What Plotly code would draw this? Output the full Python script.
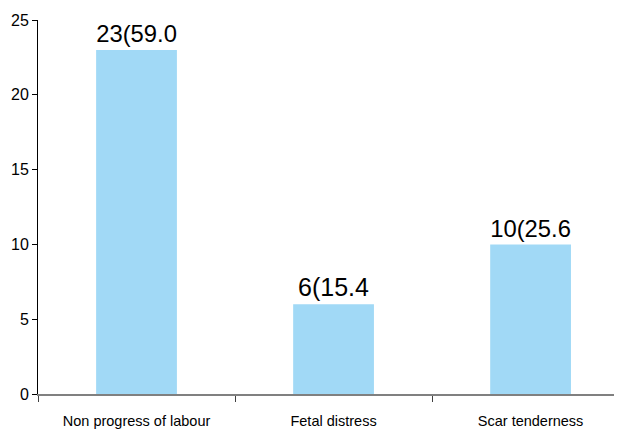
import plotly.graph_objects as go

categories = ["Non progress of labour", "Fetal distress", "Scar tenderness"]
counts = [23, 6, 10]
labels = ["23(59.0", "6(15.4", "10(25.6"]

fig = go.Figure()
fig.add_trace(go.Bar(
    x=categories, y=counts, text=labels, textposition="outside",
    textfont=dict(size=25, color="black", family="Liberation Sans, Arial"),
    marker=dict(color="#a1d9f6", line=dict(width=0)),
    width=0.41, cliponaxis=False,
))
fig.update_layout(
    width=614, height=422,
    margin=dict(l=30, r=0, t=12, b=36, autoexpand=False),
    plot_bgcolor="white", paper_bgcolor="white",
    showlegend=False,
    font=dict(family="Liberation Sans Narrow, Arial Narrow, Liberation Sans, Arial", size=14, color="black"),
    xaxis=dict(
        type="category", range=[-0.5, 2.464], automargin=False,
        showline=True, linecolor="#808080", linewidth=2,
        ticks="outside", tickson="boundaries", ticklen=6, tickcolor="#404040", tickwidth=1,
        showgrid=False, tickfont=dict(size=14.5), ticklabelstandoff=13,
    ),
    yaxis=dict(
        range=[0, 25], tickvals=[0, 5, 10, 15, 20, 25], automargin=False,
        showline=True, linecolor="black", linewidth=1,
        ticks="outside", ticklen=5, tickcolor="black",
        showgrid=False, zeroline=False, tickfont=dict(size=16),
    ),
)
fig.write_html("out.html")
